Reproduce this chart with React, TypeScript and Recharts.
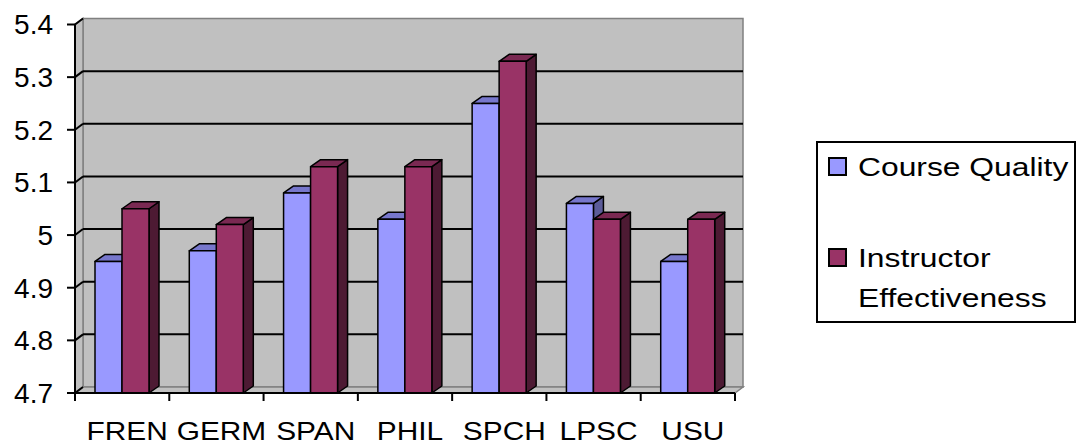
import { BarChart, Bar, XAxis, YAxis, CartesianGrid, Legend } from "recharts"

const FONT = '"Liberation Sans", Arial, sans-serif'

const DEPTS = ["FREN", "GERM", "SPAN", "PHIL", "SPCH", "LPSC", "USU"]
const COURSE_QUALITY = [4.95, 4.97, 5.08, 5.03, 5.25, 5.06, 4.95]
const INSTRUCTOR_EFFECTIVENESS = [5.05, 5.02, 5.13, 5.13, 5.33, 5.03, 5.03]
const Y_TICKS = [4.7, 4.8, 4.9, 5, 5.1, 5.2, 5.3, 5.4]

const data = DEPTS.map((dept, i) => ({
  dept,
  cq: COURSE_QUALITY[i],
  ie: INSTRUCTOR_EFFECTIVENESS[i],
}))

// 3d depth of the walls and of the bars
const WX = 8
const WY = 6
const BX = 10
const BY = 7

const WALL = "#c0c0c0"
const WALL_EDGE = "#808080"

function bar3d(front: string, top: string, side: string) {
  return (props: any) => {
    const { x, y, width: w, height: h } = props
    if (w == null || h == null) return <g />
    return (
      <g stroke="#000" strokeWidth={1.5} strokeLinejoin="round">
        <polygon points={`${x + w},${y} ${x + w + BX},${y - BY} ${x + w + BX},${y + h - BY} ${x + w},${y + h}`} fill={side} />
        <polygon points={`${x},${y} ${x + BX},${y - BY} ${x + w + BX},${y - BY} ${x + w},${y}`} fill={top} />
        <rect x={x} y={y} width={w} height={h} fill={front} />
      </g>
    )
  }
}

function gridLine(props: any) {
  const { x1, x2, y1, index, x, y, width, height } = props
  const bottom = y + height
  const edge = Math.abs(y1 - y) < 0.5 || Math.abs(y1 - bottom) < 0.5
  return (
    <g key={`gl-${index}`}>
      {index === 0 && (
        <g stroke={WALL_EDGE} strokeWidth={1.5} fill={WALL}>
          <rect x={x + WX} y={y - WY} width={width} height={height} />
          <polygon points={`${x},${y} ${x + WX},${y - WY} ${x + WX},${bottom - WY} ${x},${bottom}`} />
          <polygon points={`${x},${bottom} ${x + WX},${bottom - WY} ${x + width + WX},${bottom - WY} ${x + width},${bottom}`} />
        </g>
      )}
      <line x1={x1} y1={y1} x2={x1 + WX} y2={y1 - WY} stroke="#000" strokeWidth={2} />
      {!edge && <line x1={x1 + WX} y1={y1 - WY} x2={x2 + WX} y2={y1 - WY} stroke="#000" strokeWidth={2} />}
    </g>
  )
}

function XTick(props: any) {
  const { x, y, payload, index, visibleTicksCount, width } = props
  const half = payload?.offset || (width && visibleTicksCount ? width / visibleTicksCount / 2 : 47)
  const left = x - half
  const tx = x + 5
  return (
    <g>
      <line x1={left} y1={y - 8} x2={left} y2={y} stroke="#000" strokeWidth={2} />
      {index === visibleTicksCount - 1 && (
        <line x1={x + half} y1={y - 8} x2={x + half} y2={y} stroke="#000" strokeWidth={2} />
      )}
      <text
        x={tx}
        y={y + 39}
        textAnchor="middle"
        fontSize={25.5}
        fontFamily={FONT}
        fill="#000"
        transform={`translate(${tx} 0) scale(1.17 1) translate(${-tx} 0)`}
      >
        {payload.value}
      </text>
    </g>
  )
}

function LegendBox(props: any) {
  const payload = props.payload || []
  const rows = [4, 95]
  return (
    <div
      style={{
        boxSizing: "border-box",
        width: 260,
        height: 182,
        border: "2px solid #000",
        background: "#fff",
        position: "relative",
        fontFamily: FONT,
        fontSize: 26.5,
        color: "#000",
      }}
    >
      {payload.map((p: any, i: number) => (
        <div key={p.value}>
          <div
            style={{
              position: "absolute",
              left: 10,
              top: rows[i] + 10,
              width: 19,
              height: 19,
              boxSizing: "border-box",
              border: "2px solid #000",
              background: p.color,
            }}
          />
          <div
            style={{
              position: "absolute",
              left: 40,
              top: rows[i],
              width: 182,
              lineHeight: "40px",
              transform: "scaleX(1.2)",
              transformOrigin: "left top",
              whiteSpace: "normal",
            }}
          >
            {p.value}
          </div>
        </div>
      ))}
    </div>
  )
}

export default function App() {
  return (
    <div style={{ position: "absolute", left: 0, top: 0, background: "#fff" }}>
      <BarChart
        width={1077}
        height={442}
        data={data}
        margin={{ top: 24.5, right: 342, bottom: 0, left: 0 }}
        barSize={27}
        barGap={0}
      >
        <CartesianGrid vertical={false} horizontal={gridLine} />
        <XAxis
          dataKey="dept"
          height={49}
          interval={0}
          axisLine={{ stroke: "#000", strokeWidth: 2 }}
          tickLine={{ stroke: "none" }}
          tickSize={8}
          tickMargin={0}
          tick={<XTick />}
        />
        <YAxis
          type="number"
          domain={[4.7, 5.4]}
          ticks={Y_TICKS}
          width={75}
          interval={0}
          axisLine={{ stroke: "#000", strokeWidth: 2 }}
          tickLine={{ stroke: "#000", strokeWidth: 2 }}
          tickSize={8}
          tickMargin={14}
          tickFormatter={(v: number) => String(Number(v.toFixed(1)))}
          tick={{ fontSize: 28, fill: "#000", fontFamily: FONT }}
        />
        <Legend
          layout="vertical"
          align="center"
          verticalAlign="middle"
          wrapperStyle={{ left: 816, top: 141, width: 260, height: 182 }}
          content={<LegendBox />}
        />
        <Bar
          dataKey="cq"
          name="Course Quality"
          fill="#9999ff"
          shape={bar3d("#9999ff", "#7777cc", "#5c5c99")}
          isAnimationActive={false}
        />
        <Bar
          dataKey="ie"
          name="Instructor Effectiveness"
          fill="#993366"
          shape={bar3d("#993366", "#7a2952", "#4d1a33")}
          isAnimationActive={false}
        />
      </BarChart>
    </div>
  )
}
